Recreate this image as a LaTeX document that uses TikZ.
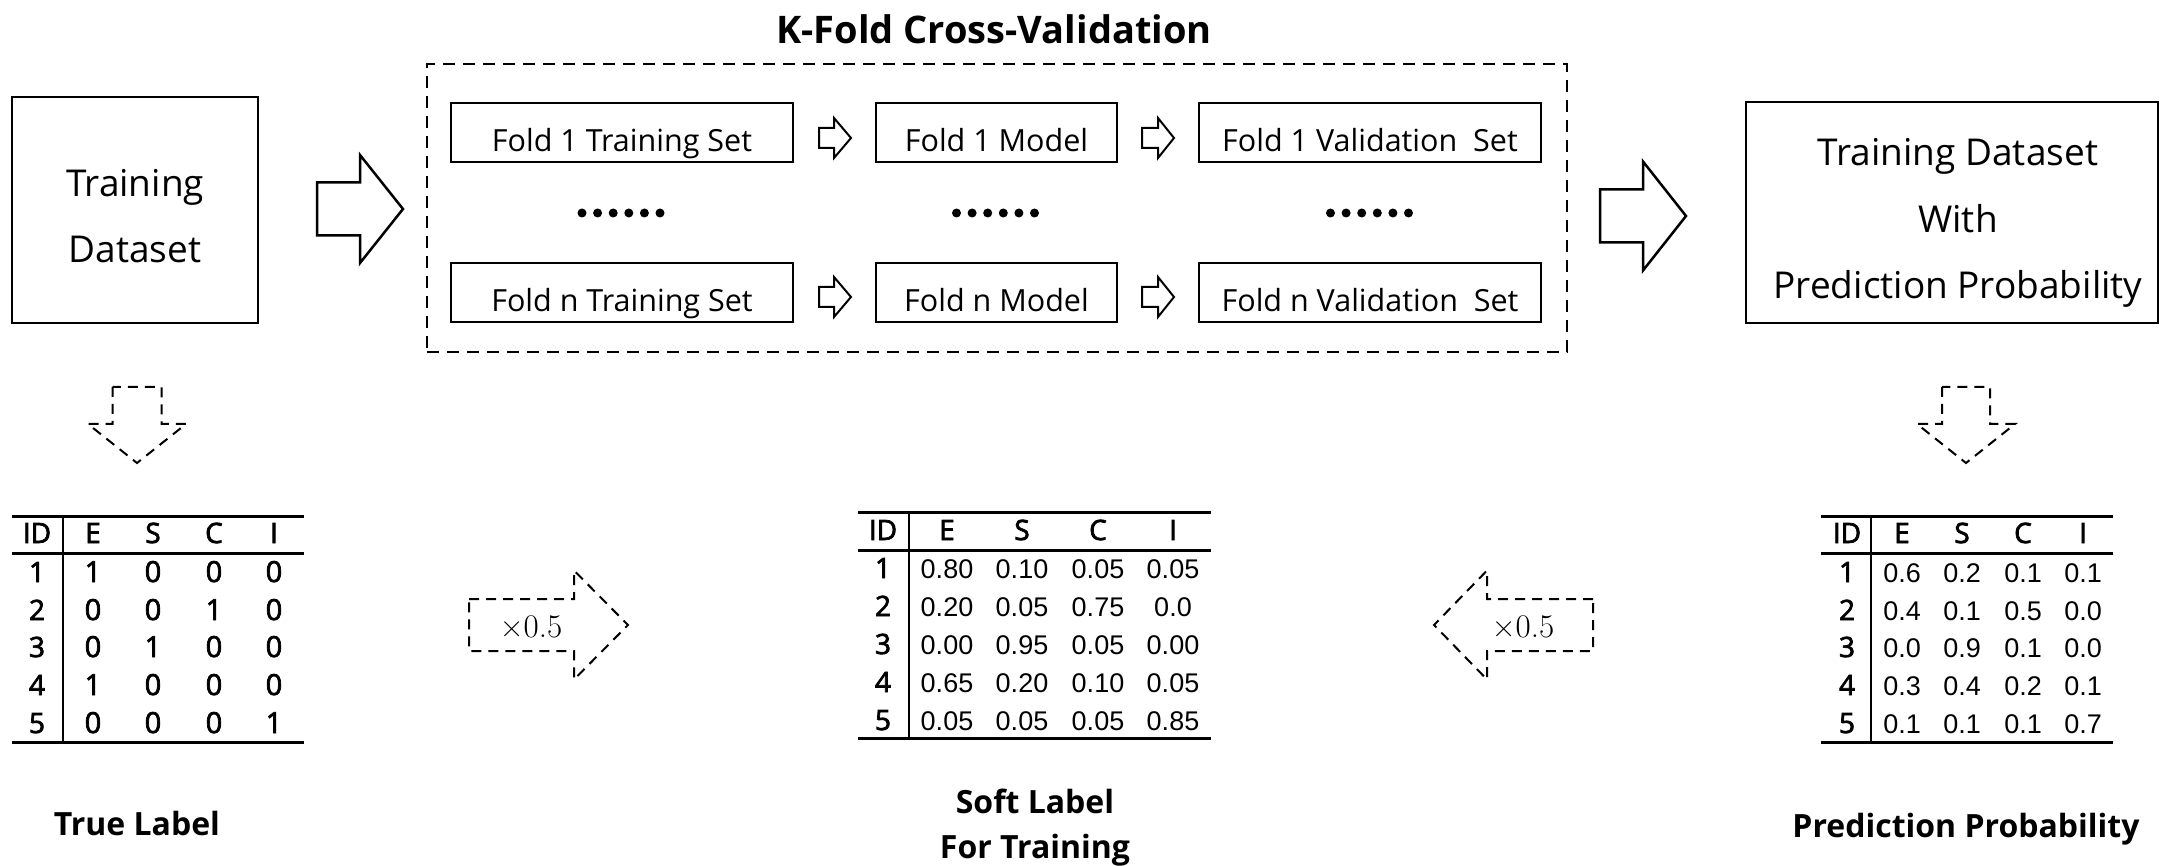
\documentclass[tikz,border=0pt]{standalone}
\usepackage{fontspec}
\newfontfamily\osans{Open Sans}
\newfontfamily\osemi{Open Sans}[FakeBold=2.5]
\newfontfamily\lsans{Liberation Sans}
\newcommand\blockarrow[7]{\draw[#1] (#2,#5-#6) -- (#3,#5-#6) -- (#3,#5-#7) -- (#4,#5) -- (#3,#5+#7) -- (#3,#5+#6) -- (#2,#5+#6) -- cycle;}
\newcommand\blockdown[7]{\draw[#1] (#5-#6,#2) -- (#5-#6,#3) -- (#5-#7,#3) -- (#5,#4) -- (#5+#7,#3) -- (#5+#6,#3) -- (#5+#6,#2) -- cycle;}
\begin{document}
\begin{tikzpicture}[x=1pt,y=-1pt,
  box/.style={draw, line width=2.5pt, inner sep=0pt},
  foldbox/.style={draw, line width=2.3pt, minimum width=#1, minimum height=59pt, inner sep=0pt,
    font=\osans\fontsize{30.5}{36}\selectfont, text height=38pt, text depth=0pt},
  bigtext/.style={inner sep=0pt, font=\osans\fontsize{37}{44}\selectfont},
  bigarr/.style={draw, line width=2.5pt, line join=miter},
  smallarr/.style={draw, line width=2pt, line join=miter},
  dasharr/.style={draw, line width=2pt, dash pattern=on 10pt off 7pt},
  kbox/.style={draw, line width=2.3pt, dash pattern=on 12pt off 8pt, inner sep=0pt},
  hdr/.style={inner sep=0pt, font=\osemi\fontsize{28}{34}\selectfont},
  idf/.style={inner sep=0pt, font=\osemi\fontsize{28}{34}\selectfont},
  tv/.style={inner sep=0pt, font=\osemi\fontsize{29}{34}\selectfont},
  nv/.style={inner sep=0pt, font=\lsans\fontsize{27}{32}\selectfont},
  rule/.style={line width=3pt},
  captxt/.style={inner sep=0pt, font=\osans\bfseries\fontsize{32}{40}\selectfont},
  mult/.style={inner sep=0pt, font=\rmfamily\fontsize{33}{38}\selectfont}
]
\useasboundingbox (0,0) rectangle (2164,866);

% title and K-fold box
\node[inner sep=0pt, anchor=base, font=\osans\bfseries\fontsize{38}{44}\selectfont] (title) at (994,44) {K-Fold Cross-Validation};
\node[kbox, minimum width=1140pt, minimum height=288pt] (kfold) at (997,208) {};

% training dataset box
\node[box, minimum width=246pt, minimum height=226pt] (tds) at (135,210) {};
\node[bigtext, anchor=base] (tds1) at (135,197) {Training};
\node[bigtext, anchor=base] (tds2) at (135,263) {Dataset};

% right box
\node[box, minimum width=412pt, minimum height=221pt] (tdp) at (1952,212.5) {};
\node[bigtext, anchor=base] (tdp1) at (1958,166) {Training Dataset};
\node[bigtext, anchor=base] (tdp2) at (1958,233) {With};
\node[bigtext, anchor=base] (tdp3) at (1958,299) {Prediction Probability};

% fold boxes
\node[foldbox=342pt] (f1t) at (622,132.5) {Fold 1 Training Set};
\node[foldbox=241pt] (f1m) at (996.5,132.5) {Fold 1 Model};
\node[foldbox=342pt] (f1v) at (1370,132.5) {Fold 1 Validation\ \ Set};
\node[foldbox=342pt] (fnt) at (622,292.5) {Fold n Training Set};
\node[foldbox=241pt] (fnm) at (996.5,292.5) {Fold n Model};
\node[foldbox=342pt] (fnv) at (1370,292.5) {Fold n Validation\ \ Set};

% small arrows
\blockarrow{smallarr}{819}{834}{851}{138}{10}{20}
\blockarrow{smallarr}{1142}{1158}{1174}{138}{10}{20}
\blockarrow{smallarr}{819}{834}{851}{297}{10}{20}
\blockarrow{smallarr}{1142}{1158}{1174}{297}{10}{20}

% dots
\foreach \cx in {621,995.5,1369.5}{
  \foreach \k in {-2.5,-1.5,-0.5,0.5,1.5,2.5}{
    \fill (\cx+\k*15.6,213) circle (4.5pt);
  }
}

% big arrows
\blockarrow{bigarr}{317}{360}{403}{209}{26.5}{54}
\blockarrow{bigarr}{1600}{1643}{1686}{216}{26.5}{54.5}

% dashed down arrows
\blockdown{dasharr}{387}{424}{463}{137}{24.5}{49}
\blockdown{dasharr}{387}{424}{463}{1966}{24}{49}

% x0.5 arrows
\blockarrow{dasharr}{469}{574}{628}{625}{26}{54.5}
\node[mult] (m1) at (531,627) {×0.5};
\blockarrow{dasharr}{1593}{1487}{1434}{625}{26}{54.5}
\node[mult] (m2) at (1523,627) {×0.5};

% ---- True label table
\draw[rule] (12,516) -- (304,516);
\draw[rule] (12,553) -- (304,553);
\draw[rule] (12,742) -- (304,742);
\draw[line width=2.5pt] (63,516) -- (63,742);
\foreach \x/\t in {37/ID,93/E,153/S,214/C,274/I}
  \node[hdr, anchor=base] (tl-h-\t) at (\x,543) {\t};
\foreach \r/\y/\qa/\qb/\qc/\qd in {1/582/1/0/0/0, 2/620/0/0/1/0, 3/657/0/1/0/0, 4/695/1/0/0/0, 5/733/0/0/0/1}{
  \node[idf, anchor=base] (tl-\r-0) at (37,\y) {\r};
  \node[tv, anchor=base] (tl-\r-1) at (93,\y) {\qa};
  \node[tv, anchor=base] (tl-\r-2) at (153,\y) {\qb};
  \node[tv, anchor=base] (tl-\r-3) at (214,\y) {\qc};
  \node[tv, anchor=base] (tl-\r-4) at (274,\y) {\qd};
}
\node[captxt, anchor=base] (tlcap) at (137,835) {True Label};

% ---- Soft label table
\draw[rule] (858,512) -- (1211,512);
\draw[rule] (858,550) -- (1211,550);
\draw[rule] (858,738) -- (1211,738);
\draw[line width=2.5pt] (909,512) -- (909,738);
\foreach \x/\t in {883/ID,947/E,1022/S,1098/C,1173/I}
  \node[hdr, anchor=base] (sl-h-\t) at (\x,540) {\t};
\foreach \r/\y/\qa/\qb/\qc/\qd in {1/578/0.80/0.10/0.05/0.05, 2/616/0.20/0.05/0.75/0.0, 3/654/0.00/0.95/0.05/0.00, 4/692/0.65/0.20/0.10/0.05, 5/730/0.05/0.05/0.05/0.85}{
  \node[idf, anchor=base] (sl-\r-0) at (883,\y) {\r};
  \node[nv, anchor=base] (sl-\r-1) at (947,\y) {\qa};
  \node[nv, anchor=base] (sl-\r-2) at (1022,\y) {\qb};
  \node[nv, anchor=base] (sl-\r-3) at (1098,\y) {\qc};
  \node[nv, anchor=base] (sl-\r-4) at (1173,\y) {\qd};
}
\node[captxt, anchor=base] (slcap1) at (1035,813) {Soft Label};
\node[captxt, anchor=base] (slcap2) at (1035,858) {For Training};

% ---- Prediction probability table
\draw[rule] (1821,516) -- (2113,516);
\draw[rule] (1821,553) -- (2113,553);
\draw[rule] (1821,742) -- (2113,742);
\draw[line width=2.5pt] (1871,516) -- (1871,742);
\foreach \x/\t in {1847/ID,1902/E,1962/S,2023/C,2083/I}
  \node[hdr, anchor=base] (pp-h-\t) at (\x,543) {\t};
\foreach \r/\y/\qa/\qb/\qc/\qd in {1/582/0.6/0.2/0.1/0.1, 2/620/0.4/0.1/0.5/0.0, 3/657/0.0/0.9/0.1/0.0, 4/695/0.3/0.4/0.2/0.1, 5/733/0.1/0.1/0.1/0.7}{
  \node[idf, anchor=base] (pp-\r-0) at (1847,\y) {\r};
  \node[nv, anchor=base] (pp-\r-1) at (1902,\y) {\qa};
  \node[nv, anchor=base] (pp-\r-2) at (1962,\y) {\qb};
  \node[nv, anchor=base] (pp-\r-3) at (2023,\y) {\qc};
  \node[nv, anchor=base] (pp-\r-4) at (2083,\y) {\qd};
}
\node[captxt, anchor=base] (ppcap) at (1966,837) {Prediction Probability};
\end{tikzpicture}
\end{document}
